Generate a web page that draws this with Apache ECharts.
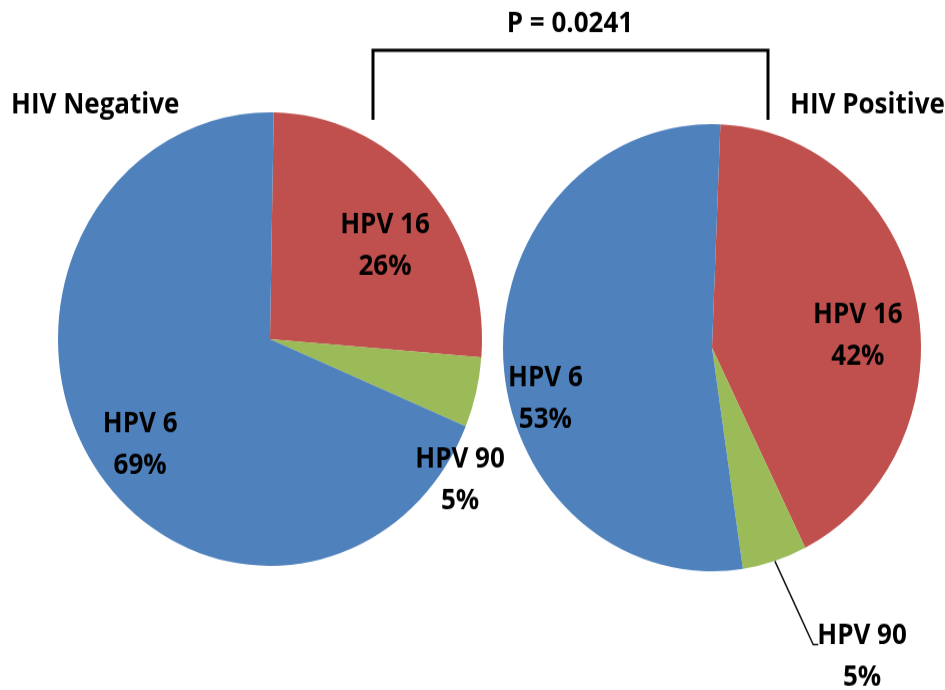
<!DOCTYPE html>
<html>
<head>
<meta charset="utf-8">
<script src="https://cdn.jsdelivr.net/npm/echarts@6/dist/echarts.min.js"></script>
<style>
html,body{margin:0;padding:0;background:#fff;overflow:hidden;width:945px;height:690px;}
#chart{width:945px;height:700px;transform:scaleY(1.0698);transform-origin:0 0;}
</style>
</head>
<body>
<div id="chart"></div>
<script>
// ---- data ----
var categories = ['HPV 16', 'HPV 90', 'HPV 6'];
var hivNegative = [26, 5, 69];
var hivPositive = [42, 5, 53];
var groupTitles = ['HIV Negative', 'HIV Positive'];
var pValueText = 'P = 0.0241';

// ---- layout / style ----
var colors = ['#C0504D', '#9BBB59', '#4F81BD'];
var FONT = '"Open Sans", "DejaVu Sans", sans-serif';
var pies = [
  { center: [270, 317], r: 212, start: 89 },
  { center: [712, 325], r: 209, start: 87.7 }
];
// label placement: [angle clockwise from top (deg), radial factor]
var labelPolar = [
  [[52.9, 0.68], [124.9, 1.093], [232.7, 0.77]],
  [[85.6, 0.70], [152.6, 1.56], [253.8, 0.83]]
];

function polar(p, angDeg, f) {
  var a = angDeg * Math.PI / 180;
  return [p.center[0] + f * p.r * Math.sin(a), p.center[1] - f * p.r * Math.cos(a)];
}

function midAngle(si, di) {
  var vals = si === 0 ? hivNegative : hivPositive;
  var tot = vals.reduce(function (s, v) { return s + v; }, 0);
  var cum = 0;
  for (var i = 0; i < di; i++) cum += vals[i];
  return (90 - pies[si].start) + (cum + vals[di] / 2) / tot * 360;
}

function makeSeries(si, vals) {
  var p = pies[si];
  return {
    type: 'pie',
    center: p.center,
    radius: [0, p.r],
    startAngle: p.start,
    clockwise: true,
    silent: true,
    avoidLabelOverlap: false,
    label: {
      show: true,
      position: 'outside',
      formatter: function (d) { return d.name + '\n' + d.value + '%'; },
      fontFamily: FONT,
      fontWeight: 'bold',
      fontSize: 26,
      lineHeight: 39,
      color: '#000',
      align: 'center'
    },
    labelLine: { show: false },
    itemStyle: { borderWidth: 0 },
    data: categories.map(function (c, i) {
      var item = { name: c, value: vals[i], itemStyle: { color: colors[i] } };
      if (si === 1 && i === 1) {
        item.labelLine = { show: true, lineStyle: { color: '#111', width: 1.5 } };
      }
      return item;
    }),
    labelLayout: function (params) {
      var lp = labelPolar[si][params.dataIndex];
      var pt = polar(p, lp[0], lp[1]);
      var res = { x: pt[0], y: pt[1], align: 'center', verticalAlign: 'middle' };
      if (si === 1 && params.dataIndex === 1) {
        var edge = polar(p, midAngle(si, params.dataIndex), 1);
        var halfW = params.labelRect.width / 2;
        var ky = pt[1] - 12;
        res.labelLinePoints = [edge, [pt[0] - halfW - 4, ky], [pt[0] - halfW + 1, ky]];
      }
      return res;
    }
  };
}

var chart = echarts.init(document.getElementById('chart'), null, { renderer: 'canvas' });
chart.setOption({
  backgroundColor: '#fff',
  animation: false,
  series: [makeSeries(0, hivNegative), makeSeries(1, hivPositive)],
  graphic: [
    {
      type: 'polyline',
      shape: { points: [[373, 112], [373, 47], [768, 47], [768, 112]] },
      style: { stroke: '#000', lineWidth: 3, fill: null, lineJoin: 'miter' },
      silent: true
    },
    {
      type: 'text', x: 570, y: 23,
      style: { text: pValueText, font: 'bold 26px ' + FONT, fill: '#000', align: 'center', verticalAlign: 'middle' }
    },
    {
      type: 'text', x: 11, y: 99,
      style: { text: groupTitles[0], font: 'bold 26px ' + FONT, fill: '#000', align: 'left', verticalAlign: 'middle' }
    },
    {
      type: 'text', x: 790, y: 99,
      style: { text: groupTitles[1], font: 'bold 26px ' + FONT, fill: '#000', align: 'left', verticalAlign: 'middle' }
    }
  ]
});
</script>
</body>
</html>
